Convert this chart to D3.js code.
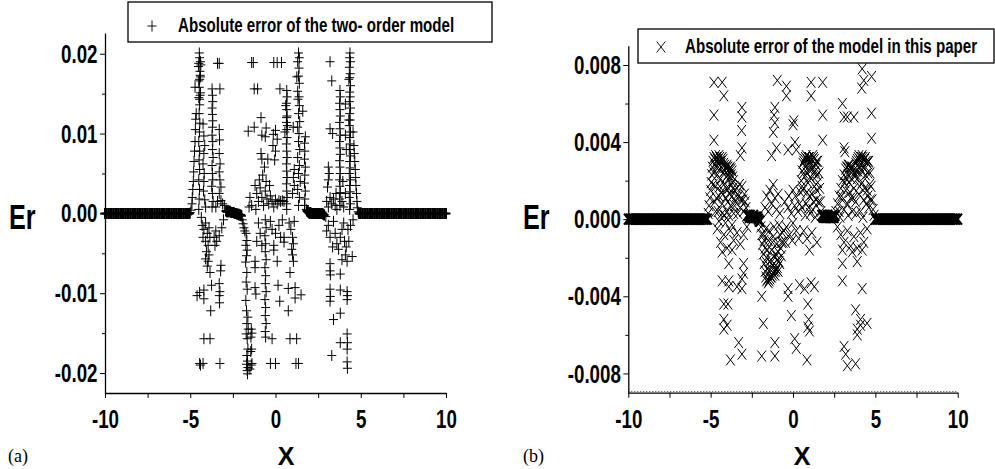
<!DOCTYPE html>
<html>
<head>
<meta charset="utf-8">
<script src="https://cdn.jsdelivr.net/npm/d3@7"></script>
<style>
  body { margin: 0; background: #fff; }
  svg { display: block; }
</style>
</head>
<body>
<svg id="chart" width="995" height="469"></svg>
<script>

// ---- data ----
const xTicks = [-10, -5, 0, 5, 10];
const xMinorTicks = [-7.5, -2.5, 2.5, 7.5];

const yTicksA = [-0.02, -0.01, 0, 0.01, 0.02];
const yMinorA = [-0.015, -0.005, 0.005, 0.015];
const yTicksB = [-0.008, -0.004, 0, 0.004, 0.008];
const yMinorB = [-0.006, -0.002, 0.002, 0.006];

const legendA = 'Absolute error of the two- order model';
const legendB = 'Absolute error of the model in this paper';

// x positions where both errors sit on zero (outer flat bands)
const flatX = [-10, -9.9, -9.8, -9.7, -9.6, -9.5, -9.4, -9.3, -9.2, -9.1, -9, -8.9, -8.8, -8.7, -8.6, -8.5,
  -8.4, -8.3, -8.2, -8.1, -8, -7.9, -7.8, -7.7, -7.6, -7.5, -7.4, -7.3, -7.2, -7.1, -7, -6.9, -6.8, -6.7,
  -6.6, -6.5, -6.4, -6.3, -6.2, -6.1, -6, -5.9, -5.8, -5.7, -5.6, -5.5, -5.4, -5.3, -5.2,
  5, 5.1, 5.2, 5.3, 5.4, 5.5, 5.6, 5.7, 5.8, 5.9, 6, 6.1, 6.2, 6.3, 6.4, 6.5, 6.6, 6.7, 6.8, 6.9, 7,
  7.1, 7.2, 7.3, 7.4, 7.5, 7.6, 7.7, 7.8, 7.9, 8, 8.1, 8.2, 8.3, 8.4, 8.5, 8.6, 8.7, 8.8, 8.9, 9,
  9.1, 9.2, 9.3, 9.4, 9.5, 9.6, 9.7, 9.8, 9.9, 10];

// (a) short near-zero stretches between the peaks, [x, Er]
const innerBandA = [
  [-5.15,0],[-5.1,0],[-5.05,0],
  [-2.9,0.0003],[-2.85,0.0002],[-2.8,0.0002],[-2.75,0.0002],[-2.7,0.0003],[-2.65,0.0002],[-2.6,0.0001],
  [-2.55,0.0001],[-2.5,0.0001],[-2.45,0.0001],[-2.4,0],[-2.35,0],[-2.3,0],[-2.25,-0.0001],[-2.2,-0.0001],
  [-2.15,-0.0001],[-2.1,-0.0002],[-2.05,-0.0002],[-2.0,-0.0003],
  [1.85,0.0003],[1.9,0.0002],[1.95,0.0001],[2.0,0],[2.05,0.0001],[2.1,0],[2.15,0],[2.2,0],[2.25,0],[2.3,0],
  [2.35,0],[2.4,0],[2.45,0],[2.5,0],[2.55,0],[2.6,0],[2.65,0],[2.7,0],[2.75,0],[2.8,-0.0001],[2.85,-0.0002],
  [4.9,0],[4.95,0]
];

// (a) two-order model, [x, Er]
const twoOrderPts = [
  [-5.0,0.0001],[-4.95,0.0004],[-4.9,0.0012],[-4.88,0.002],[-4.85,0.003],[-4.82,0.004],[-4.8,0.0052],
  [-4.78,0.0065],[-4.75,0.0078],[-4.72,0.009],[-4.7,0.0105],[-4.68,0.0118],[-4.65,0.0125],[-4.72,0.0158],
  [-4.5,0.0005],[-4.48,0.0018],[-4.46,0.003],[-4.5,0.0042],[-4.45,0.0055],[-4.48,0.0067],[-4.45,0.0078],
  [-4.5,0.009],[-4.46,0.0102],[-4.44,0.0113],[-4.48,0.0125],[-4.45,0.0136],[-4.5,0.0145],[-4.42,0.0148],
  [-4.47,0.0158],[-4.45,0.0168],[-4.4,0.0171],[-4.43,0.0178],[-4.5,0.0188],[-4.4,0.019],[-4.45,0.0195],[-4.47,0.0201],
  [-4.52,0.0184],[-4.38,0.0186],[-4.42,0.0173],[-4.5,0.0166],[-4.4,0.0151],[-4.45,0.0143],
  [-4.25,0.0112],[-4.2,0.0097],[-4.15,0.0085],[-4.2,0.0075],[-4.25,0.0062],[-4.18,0.005],[-4.2,0.004],
  [-4.22,0.0028],[-4.15,0.0017],[-4.1,0.0008],[-3.3,0.0188],[-3.4,0.0188],
  [-3.72,0.0156],[-3.7,0.0148],[-3.68,0.014],[-3.72,0.0132],[-3.7,0.0124],[-3.68,0.0116],[-3.7,0.0108],
  [-3.72,0.0098],[-3.68,0.009],[-3.7,0.008],[-3.66,0.007],[-3.72,0.006],[-3.7,0.005],[-3.68,0.0042],
  [-3.74,0.0034],[-3.7,0.0025],[-3.66,0.0015],[-3.72,0.0008],[-3.26,0.0156],
  [-3.3,0.0105],[-3.28,0.0092],[-3.3,0.0075],[-3.25,0.0062],[-3.3,0.0052],[-3.26,0.0042],[-3.2,0.0033],
  [-3.3,0.0025],[-3.2,0.0016],[-3.1,0.0012],[-3.0,0.001],[-3.4,0.0015],[-3.5,0.0008],
  [-4.35,-0.0005],[-4.3,-0.0015],[-4.2,-0.002],[-4.1,-0.0012],[-4.0,-0.0025],[-3.9,-0.0018],[-3.85,-0.003],
  [-4.25,-0.003],[-4.1,-0.0035],[-3.95,-0.004],[-3.6,-0.003],[-3.5,-0.0022],[-3.45,-0.0035],[-3.3,-0.0028],
  [-3.15,-0.0018],[-3.05,-0.0008],[-3.55,-0.004],[-4.05,-0.0048],[-3.9,-0.0052],[-4.1,-0.0057],[-3.95,-0.006],
  [-4.0,-0.0066],[-3.84,-0.0074],[-3.2,-0.0065],[-3.22,-0.0072],[-4.6,-0.0103],[-4.45,-0.0099],[-4.2,-0.0096],
  [-4.2,-0.0107],[-3.75,-0.009],[-3.3,-0.0088],[-3.26,-0.0098],[-3.3,-0.0103],[-3.28,-0.0112],[-3.8,-0.0122],
  [-4.2,-0.0157],[-3.84,-0.0157],[-4.45,-0.0188],[-4.25,-0.0188],[-3.26,-0.0188],[-4.4,-0.019],
  [-1.95,-0.0008],[-1.9,-0.0013],[-1.85,-0.0018],[-1.8,-0.0022],
  [-1.72,-0.0025],[-1.68,-0.0034],[-1.74,-0.004],[-1.66,-0.0046],[-1.7,-0.0053],[-1.75,-0.0061],[-1.68,-0.0074],
  [-1.72,-0.0086],[-1.66,-0.0095],[-1.74,-0.0109],[-1.7,-0.0122],[-1.62,-0.013],[-1.68,-0.0138],[-1.6,-0.0145],
  [-1.72,-0.0151],[-1.66,-0.0157],[-1.62,-0.017],[-1.68,-0.0178],[-1.64,-0.0185],[-1.7,-0.0189],[-1.62,-0.0193],
  [-1.66,-0.0197],[-1.64,-0.0201],
  [-1.42,-0.0145],[-1.38,-0.015],[-1.44,-0.0155],[-1.4,-0.017],[-1.45,-0.0173],[-1.38,-0.0188],[-1.42,-0.019],[-1.5,-0.0195],
  [-1.6,0.0103],[-1.55,0.0008],[-1.5,0.002],[-1.4,0.001],
  [-1.3,0.0189],[-1.4,0.0189],[-1.25,0.0156],[-1.05,0.0156],[-1.25,0.0108],
  [-1.2,0.0035],[-1.1,0.0025],[-1.0,0.0015],[-0.9,0.0032],[-0.8,0.002],[-0.7,0.001],[-0.6,0.0028],[-0.5,0.0018],
  [-0.4,0.0012],[-0.3,0.0022],[-0.2,0.0015],[-0.1,0.0008],[0.0,0.0017],[0.1,0.0012],[0.2,0.0016],[0.3,0.0015],
  [0.4,0.0016],[0.5,0.0015],[-1.15,0.0005],[-0.95,0.0042],[-0.75,0.0048],[-0.55,0.004],[-0.35,0.0035],
  [-0.65,0.0058],[-0.85,0.0075],[-0.8,0.0068],[-0.45,0.0068],[-0.15,0.0085],[0.0,0.0078],[-0.05,0.0067],
  [0.1,0.0093],[-0.85,0.012],[-0.8,0.0098],[-0.55,0.0107],[-0.6,0.0096],[-0.13,0.0099],[0.0,0.0104],
  [0.55,0.0102],[0.6,0.0135],[0.65,0.012],[0.7,0.011],
  [0.66,0.0154],[0.68,0.0146],[0.64,0.0138],[0.66,0.013],[0.68,0.0122],[0.64,0.0114],[0.66,0.0105],[0.68,0.0095],
  [0.64,0.0087],[0.66,0.0078],[0.68,0.007],[0.64,0.0062],[0.66,0.0053],[0.68,0.0045],[0.64,0.0037],[0.66,0.0028],
  [0.68,0.002],[0.64,0.0012],[0.66,0.0005],[0.26,0.0156],[-0.1,0.0189],[0.1,0.0189],[0.35,0.0189],
  [1.35,0.0201],[1.4,0.0195],[1.3,0.019],[1.38,0.0182],[1.35,0.0172],[1.25,0.0171],[1.4,0.0163],[1.3,0.0153],
  [1.38,0.0146],[1.32,0.0143],[1.4,0.0135],[1.35,0.0125],[1.42,0.0115],[1.3,0.0108],[1.38,0.01],[1.35,0.009],
  [1.42,0.008],[1.3,0.007],[1.4,0.006],[1.35,0.005],[1.45,0.004],[1.3,0.003],[1.4,0.002],[1.35,0.001],
  [1.04,0.0108],[1.1,0.0055],[1.05,0.0045],[1.1,0.0035],[1.0,0.0025],
  [1.6,0.0128],[1.75,0.0096],[1.7,0.0088],[1.72,0.0078],[1.7,0.0068],[1.75,0.0058],[1.72,0.0048],[1.7,0.0038],
  [1.75,0.0028],[1.72,0.0018],[1.7,0.001],[1.8,0.0005],
  [-0.6,-0.0008],[-0.55,-0.0018],[-0.62,-0.0028],[-0.58,-0.0038],[-0.6,-0.0048],[-0.55,-0.0058],[-0.62,-0.0068],
  [-0.58,-0.0078],[-0.6,-0.0088],[-0.55,-0.0098],[-0.62,-0.0108],[-0.58,-0.0118],[-0.6,-0.0128],[-0.55,-0.0138],
  [-0.6,-0.0148],[-0.58,-0.0155],
  [-1.2,-0.006],[-1.2,-0.0068],[-1.2,-0.0093],[-1.15,-0.0101],[-1.0,-0.0012],[-0.9,-0.0025],[-1.1,-0.0035],
  [-0.8,-0.004],[-0.3,-0.001],[-0.2,-0.002],[-0.1,-0.004],[-0.1,-0.0046],[0.1,-0.006],[0.15,-0.009],[0.25,-0.011],
  [0.3,-0.003],[0.5,-0.003],[0.5,-0.0036],[0.2,-0.0015],[0.0,-0.0025],[0.4,-0.0008],[0.85,-0.0074],[0.75,-0.0094],
  [1.15,-0.0093],[1.15,-0.0106],[1.5,-0.0102],[0.75,-0.0122],[0.85,-0.0157],[1.24,-0.0157],[-0.2,-0.0157],
  [-0.3,-0.0188],[0.0,-0.0188],[1.2,-0.0188],[1.35,-0.0188],[1.0,-0.003],[1.05,-0.0038],[0.95,-0.0045],
  [1.0,-0.0052],[1.05,-0.006],[0.9,-0.002],[1.1,-0.001],[0.8,-0.0012],
  [3.2,0.019],[3.3,0.0166],
  [3.78,0.0154],[3.8,0.0146],[3.76,0.0138],[3.78,0.013],[3.8,0.0122],[3.76,0.0114],[3.78,0.0106],[3.8,0.0098],
  [3.76,0.009],[3.78,0.0082],[3.8,0.0074],[3.76,0.0066],[3.78,0.0058],[3.8,0.005],[3.76,0.0042],[3.78,0.0034],
  [3.8,0.0026],[3.76,0.0018],[3.78,0.001],
  [4.37,0.0201],[4.35,0.0195],[4.4,0.019],[4.33,0.0183],[4.38,0.0175],[4.35,0.017],[4.3,0.0168],[4.4,0.016],
  [4.35,0.0152],[4.38,0.0146],[4.33,0.014],[4.4,0.0132],[4.35,0.0125],[4.38,0.0117],[4.33,0.011],[4.4,0.0102],
  [4.35,0.0095],[4.38,0.0087],[4.33,0.008],[4.4,0.0072],[4.35,0.0065],[4.38,0.0057],[4.33,0.005],[4.4,0.0042],
  [4.35,0.0035],[4.38,0.0027],[4.33,0.002],[4.4,0.0012],[4.35,0.0005],
  [4.55,0.0102],[4.6,0.0085],[4.62,0.0075],[4.65,0.0065],[4.68,0.0055],[4.7,0.0045],[4.72,0.0035],[4.75,0.0025],
  [4.78,0.0015],[4.8,0.0007],[4.85,0.0002],
  [3.2,0.0106],[3.35,0.01],[4.1,0.0137],[4.3,0.0117],[4.1,0.0098],[4.15,0.008],
  [3.1,0.0058],[3.15,0.005],[3.1,0.0042],[3.05,0.0033],[3.0,0.0015],[3.1,0.0008],[3.2,0.002],[3.3,0.0012],
  [3.4,0.0018],[3.5,0.001],[3.55,0.0025],[3.6,0.0005],[3.9,0.0015],[4.0,0.0008],[4.1,0.0025],[3.95,0.004],
  [2.95,-0.0004],[3.0,-0.0022],[3.2,-0.003],[3.35,-0.0042],[3.1,-0.0015],[3.5,-0.0025],[3.6,-0.0038],[3.7,-0.0045],[3.8,-0.003],
  [3.9,-0.002],[4.05,-0.0035],[4.15,-0.0042],[4.0,-0.0012],[4.25,-0.002],[3.4,-0.001],[3.2,-0.0063],[3.2,-0.0072],
  [3.22,-0.0077],[3.2,-0.0095],[3.22,-0.0104],[3.2,-0.011],[3.4,-0.0133],[3.3,-0.0178],[3.8,-0.0076],
  [3.8,-0.0096],[3.8,-0.0125],[3.8,-0.0162],[4.5,-0.0054],[4.2,-0.0098],[4.22,-0.0103],[4.2,-0.0108],
  [4.2,-0.0151],[4.22,-0.0162],[4.2,-0.017],[4.2,-0.0186],[4.22,-0.0194],[4.1,-0.0052],[4.2,-0.006],
  [3.9,-0.0058],[4.3,-0.0035],[4.4,-0.0015],[4.55,-0.0008]
];

// (b) short near-zero stretches between the humps, [x, Er]
const innerBandB = [
  [-2.75,0.0002],[-2.7,0.0002],[-2.65,0.0001],[-2.6,0.0002],[-2.55,0.0001],[-2.5,0.0001],[-2.45,0.0001],
  [-2.4,0.0002],[-2.35,0.0001],[-2.3,0.0001],[-2.25,0.0001],[-2.2,0.0001],[-2.15,0.0001],[-2.1,0],
  [-2.05,-0.0001],[-2.0,-0.0001],
  [1.75,0.0002],[1.8,0.0002],[1.85,0.0001],[1.9,0.0002],[1.95,0.0001],[2.0,0.0001],[2.05,0.0001],[2.1,0.0002],
  [2.15,0.0001],[2.2,0.0001],[2.25,0.0001],[2.3,0.0001],[2.35,0.0001],[2.4,0.0002],[2.45,0.0001],[2.5,0.0001],
  [2.55,0.0002]
];

// (b) model in this paper, [x, Er]
const thisPaperPts = [
  [-5.15,0.0003],[-5.1,0.0007],[-5.05,0.0011],[-5.0,0.0015],[-4.97,0.0019],[-4.93,0.0023],[-4.9,0.0027],[-4.86,0.003],
  [-4.8,0.0032],[-4.7,0.0033],[-4.6,0.0031],[-4.5,0.0033],[-4.4,0.003],[-4.3,0.0032],[-4.2,0.0029],[-4.1,0.0027],
  [-4.0,0.0028],[-3.9,0.0026],[-3.8,0.0027],[-3.7,0.0025],[-3.62,0.002],[-3.55,0.0015],
  [-4.75,0.0031],[-4.65,0.0032],[-4.55,0.0031],[-4.45,0.0032],[-4.35,0.0029],[-4.25,0.0031],[-4.15,0.0028],
  [-4.05,0.0027],[-3.95,0.0027],[-3.85,0.0026],[-3.75,0.0026],[-3.65,0.0022],
  [-4.8,0.0024],[-4.7,0.0017],[-4.6,0.0023],[-4.5,0.0012],[-4.4,0.0021],[-4.3,0.0008],[-4.2,0.0018],[-4.1,0.0011],
  [-4.0,0.0004],[-3.9,0.0016],[-3.8,0.0007],[-3.7,0.0012],[-3.6,0.0003],[-4.75,0.0009],[-4.55,0.0004],
  [-4.35,0.0014],[-4.15,0.0002],[-3.95,0.0009],[-3.75,0.0018],
  [-4.85,0.0018],[-4.75,0.0028],[-4.65,0.0027],[-4.55,0.0029],[-4.45,0.0026],[-4.35,0.0027],[-4.25,0.0024],
  [-4.15,0.0025],[-4.05,0.0022],[-3.95,0.0023],[-3.85,0.0021],[-3.75,0.0023],[-3.65,0.0016],[-4.65,0.0011],
  [-4.45,0.0017],[-4.25,0.0013],[-4.05,0.0016],[-3.85,0.0013],[-4.7,0.0004],[-4.5,-0.0001],[-4.3,0.0003],
  [-4.1,-0.0002],[-3.9,0.0002],[-3.7,-0.0003],[-3.55,0.0007],[-3.45,0.0012],[-3.25,0.0018],[-3.15,0.001],
  [-2.95,0.0013],[-2.85,0.0006],
  [-3.5,0.0009],[-3.4,0.0016],[-3.3,0.0012],[-3.2,0.0006],[-3.1,0.0017],[-3.0,0.0004],[-2.9,0.0009],[-2.8,0.0002],
  [-3.35,0.0003],[-3.05,0.001],
  [-4.6,-0.0005],[-4.4,-0.0012],[-4.2,-0.0008],[-4.0,-0.0015],[-3.8,-0.0006],[-3.6,-0.0011],[-3.4,-0.0007],
  [-3.2,-0.0013],[-3.0,-0.0008],[-2.8,-0.0004],[-4.3,-0.0017],[-3.7,-0.0016],
  [-1.95,-0.0004],[-1.9,-0.0008],[-1.85,-0.0013],[-1.8,-0.0018],[-1.75,-0.0023],[-1.7,-0.0027],[-1.65,-0.003],
  [-1.6,-0.0032],[-1.5,-0.0033],[-1.4,-0.0031],[-1.3,-0.003],[-1.2,-0.0028],[-1.1,-0.0029],[-1.0,-0.0026],
  [-0.9,-0.0027],[-0.8,-0.0023],[-0.7,-0.0019],[-0.6,-0.0012],[-0.55,-0.0006],
  [-1.55,-0.0031],[-1.45,-0.0032],[-1.35,-0.003],[-1.25,-0.0029],[-1.15,-0.0027],[-1.05,-0.0027],[-0.95,-0.0025],
  [-1.8,-0.0008],[-1.7,-0.0015],[-1.6,-0.002],[-1.5,-0.0011],[-1.4,-0.0022],[-1.3,-0.0016],[-1.2,-0.0009],
  [-1.1,-0.002],[-1.0,-0.0013],[-0.9,-0.0017],[-0.8,-0.0008],[-0.7,-0.0012],[-1.55,-0.0026],[-1.25,-0.0024],
  [-0.95,-0.0021],
  [-1.75,-0.0011],[-1.65,-0.0022],[-1.55,-0.0016],[-1.45,-0.0027],[-1.35,-0.0021],[-1.25,-0.0012],
  [-1.15,-0.0025],[-1.05,-0.0018],[-0.85,-0.0022],[-0.75,-0.0015],[-0.65,-0.0007],[-1.45,-0.0006],
  [-1.15,-0.0004],[-0.85,-0.0003],[-1.65,-0.0005],
  [-1.7,0.0006],[-1.6,0.0012],[-1.5,0.0004],[-1.4,0.0015],[-1.3,0.0008],[-1.2,0.0018],[-1.1,0.0011],[-1.0,0.0005],
  [-0.9,0.0013],[-0.8,0.0003],
  [-0.5,0.0009],[-0.4,-0.0004],[-0.3,0.0006],[-0.2,-0.0008],[-0.1,0.0003],[0.0,-0.0002],[0.1,0.0007],[0.2,-0.0006],
  [0.3,0.0004],[-0.45,-0.0012],[-0.25,0.0012],[-0.05,-0.0011],[0.15,0.0012],[0.35,-0.001],[0.0,0.0015],
  [0.4,0.0008],[0.45,0.0014],[0.5,0.002],[0.55,0.0025],[0.6,0.0029],[0.7,0.0031],[0.8,0.0033],[0.9,0.003],
  [1.0,0.0032],[1.1,0.0029],[1.2,0.0033],[1.3,0.0031],[1.4,0.0028],[1.5,0.003],[1.58,0.0024],[1.62,0.0016],
  [1.66,0.0009],[1.7,0.0004],
  [0.65,0.003],[0.75,0.0032],[0.85,0.0031],[0.95,0.0032],[1.05,0.003],[1.15,0.0031],[1.25,0.0032],[1.35,0.0029],[1.45,0.003],
  [0.6,0.0015],[0.7,0.0022],[0.8,0.0008],[0.9,0.0019],[1.0,0.0012],[1.1,0.0021],[1.2,0.0005],[1.3,0.0017],
  [1.4,0.001],[1.5,0.0019],[0.75,0.0002],[1.05,0.0003],[1.35,0.0001],[0.65,-0.0006],[0.85,-0.001],[1.15,-0.0007],
  [1.45,-0.0012],[1.0,-0.0016],
  [0.55,0.0017],[0.65,0.0024],[0.75,0.0027],[0.85,0.0024],[0.95,0.0026],[1.05,0.0022],[1.15,0.0026],
  [1.25,0.0024],[1.35,0.0025],[1.45,0.0023],[0.55,0.0006],[0.85,0.0014],[1.15,0.0013],[1.45,0.0015],
  [1.55,0.0009],[0.95,0.0006],[1.25,0.0009],
  [2.6,0.0004],[2.7,0.0008],[2.8,0.0012],[2.9,0.0016],[3.0,0.002],[3.1,0.0023],[3.2,0.0026],[3.3,0.0027],
  [3.4,0.0028],[3.5,0.0026],[3.6,0.0027],[3.7,0.0024],[3.8,0.0029],[3.9,0.0031],[4.0,0.0033],[4.1,0.003],
  [4.2,0.0033],[4.3,0.0031],[4.4,0.0032],[4.5,0.0029],[4.6,0.003],[4.68,0.0024],[4.74,0.0017],[4.8,0.001],
  [4.86,0.0005],[4.92,0.0002],
  [3.25,0.0027],[3.35,0.0028],[3.45,0.0027],[3.55,0.0027],[3.65,0.0025],[3.85,0.003],[3.95,0.0032],[4.05,0.0031],
  [4.15,0.0032],[4.25,0.0032],[4.35,0.0031],[4.45,0.003],[4.55,0.003],
  [2.8,0.0004],[3.0,0.001],[3.1,0.0005],[3.2,0.0015],[3.3,0.0008],[3.4,0.0019],[3.5,0.0011],[3.6,0.0004],
  [3.7,0.0016],[3.8,0.0009],[3.9,0.0021],[4.0,0.0013],[4.1,0.0004],[4.2,0.0019],[4.3,0.001],[4.4,0.0023],
  [4.5,0.0015],[4.6,0.0006],[3.25,0.0021],[3.95,0.0025],[4.45,0.0008],
  [2.95,0.0012],[3.15,0.0019],[3.35,0.0023],[3.55,0.0021],[3.75,0.0022],[3.85,0.0025],[4.05,0.0027],
  [4.15,0.0025],[4.25,0.0027],[4.35,0.0026],[4.55,0.0024],[4.65,0.0018],[4.7,0.001],[3.45,0.0014],
  [3.65,0.0011],[4.05,0.0017],[4.35,0.0016],[4.55,0.0012],[2.85,0.0001],[3.35,0.0002],[3.85,0.0003],[4.25,0.0001],
  [2.7,-0.0004],[2.9,-0.0008],[3.1,-0.0012],[3.3,-0.0006],[3.5,-0.0014],[3.7,-0.0009],[3.9,-0.0015],[4.1,-0.0007],
  [4.3,-0.0012],[4.5,-0.0005],[3.0,-0.0016],[3.6,-0.0017],[4.2,-0.0016],
  [-4.8,0.0071],[-4.3,0.0071],[-4.2,0.0064],[-4.8,0.0054],[-4.8,0.0041],[-3.1,0.0058],[-3.1,0.0053],
  [-3.12,0.0046],[-3.1,0.0037],[-3.2,0.0033],[-0.95,0.0072],[-0.4,0.0069],[-0.4,0.0064],[-1.1,0.0058],
  [-1.15,0.0054],[-1.1,0.005],[-1.2,0.0045],[-1.0,0.0037],[-1.3,0.0033],[0.05,0.0051],[0.12,0.004],
  [-0.3,0.0036],[0.2,0.0036],[0.0,0.0049],[1.1,0.0071],[1.1,0.0064],[1.8,0.0071],[1.8,0.0054],[1.8,0.0041],
  [3.0,0.006],[3.1,0.0053],[3.3,0.0053],[3.7,0.0053],[3.1,0.0037],[3.15,0.0035],[4.17,0.0068],[4.3,0.0072],
  [4.2,0.0078],[4.77,0.0074],[4.77,0.0055],[4.77,0.0042],
  [-4.3,-0.0032],[-3.9,-0.0032],[-3.9,-0.0023],[-3.0,-0.0023],[-3.0,-0.0028],[-3.9,-0.0035],[-3.4,-0.0035],
  [-3.1,-0.0031],[-3.1,-0.0036],[-4.2,-0.0044],[-3.95,-0.0044],[-4.2,-0.0052],[-4.2,-0.0057],[-4.0,-0.0055],
  [-3.3,-0.0064],[-3.1,-0.007],[-3.8,-0.0073],[-1.9,-0.004],[-1.8,-0.0054],[-1.9,-0.0071],[-1.1,-0.0064],
  [-1.1,-0.0071],[-0.3,-0.0036],[-0.3,-0.004],[-0.1,-0.005],[0.1,-0.0062],[0.2,-0.0067],[0.85,-0.0073],
  [0.4,-0.0034],[0.7,-0.0036],[1.1,-0.0033],[1.3,-0.0035],[0.9,-0.0044],[0.95,-0.0052],[0.9,-0.0056],
  [1.0,-0.0058],[3.0,-0.0023],[3.0,-0.0032],[3.1,-0.0066],[3.2,-0.007],[3.3,-0.0076],[3.8,-0.0075],
  [3.9,-0.0022],[4.2,-0.0036],[3.8,-0.0047],[4.1,-0.0052],[4.1,-0.0055],[4.5,-0.0054],[3.9,-0.0057],[3.9,-0.006]
];

// row of tiny dots just above the x axis in (b)
const dottedLevelB = -0.00894;

// ---- drawing ----
const FONT = '"Liberation Sans", Arial, Helvetica, sans-serif';
const SQUEEZE = 0.72;

const plusPath = 'M-4.5,0H4.5M0,-5.5V5.5';
const crossPath = 'M-4.3,-5.5L4.3,5.5M-4.3,5.5L4.3,-5.5';

const scatterPanel = (selection, props) => {

    const {
        xRange,
        yDomain,
        yRange,
        yTicks,
        yMinor,
        yFormat,
        points,
        innerBand,
        markerPath,
        markerWidth,
        legendText,
        legendBox,
        tagText,
        tagX,
        erX,
        xLabelX,
        dotted
    } = props;

    const xScale = d3.scaleLinear().domain([-10, 10]).range(xRange);
    const yScale = d3.scaleLinear().domain(yDomain).range(yRange);

    const g = selection.append('g').attr('class', 'panel');

    // the near-zero bands: markers packed so tightly they print as a solid bar
    const band = flatX.map(x => [x, 0]).concat(innerBand);

    g.append('g')
        .attr('class', 'band')
        .selectAll('path')
        .data(band)
        .enter().append('path')
        .attr('transform', d => `translate(${xScale(d[0])},${yScale(d[1])})`)
        .attr('d', markerPath)
        .attr('fill', 'none')
        .attr('stroke', '#000')
        .attr('stroke-width', 2);

    g.append('g')
        .attr('class', 'marks')
        .selectAll('path')
        .data(points)
        .enter().append('path')
        .attr('transform', d => `translate(${xScale(d[0])},${yScale(d[1])})`)
        .attr('d', markerPath)
        .attr('fill', 'none')
        .attr('stroke', '#000')
        .attr('stroke-width', markerWidth);

    if (dotted !== undefined) {
        g.append('line')
            .attr('x1', xScale(-10))
            .attr('x2', xScale(10))
            .attr('y1', yScale(dotted))
            .attr('y2', yScale(dotted))
            .attr('stroke', '#333')
            .attr('stroke-width', 1)
            .attr('stroke-dasharray', '1,2');
    }

    const fmt = d => d3.format(yFormat)(d).replace('\u2212', '-');

    // y axis
    const yAxisG = g.append('g')
        .attr('class', 'yAxis')
        .attr('transform', `translate(${xRange[0]},0)`);

    yAxisG.call(d3.axisLeft(yScale).tickValues(yMinor).tickSize(3).tickSizeOuter(0).tickFormat(''))
        .selectAll('.domain').remove();

    const yMajorG = g.append('g')
        .attr('transform', `translate(${xRange[0]},0)`)
        .call(d3.axisLeft(yScale).tickValues(yTicks).tickSize(5).tickSizeOuter(0).tickFormat(fmt));

    yMajorG.selectAll('text')
        .attr('x', -7.5 / SQUEEZE)
        .attr('dy', '0.33em')
        .attr('transform', `scale(${SQUEEZE},1)`)
        .style('font', `bold 26px ${FONT}`)
        .attr('fill', '#000');

    // x axis
    const xMinorG = g.append('g')
        .attr('transform', `translate(0,${yRange[0]})`)
        .call(d3.axisBottom(xScale).tickValues(xMinorTicks).tickSize(5).tickSizeOuter(0).tickFormat(''));
    xMinorG.selectAll('.domain').remove();

    const xAxisG = g.append('g')
        .attr('transform', `translate(0,${yRange[0]})`)
        .call(d3.axisBottom(xScale).tickValues(xTicks).tickSize(5).tickSizeOuter(0).tickFormat(d => String(d)));

    xAxisG.selectAll('text')
        .attr('y', 35)
        .attr('dy', null)
        .attr('transform', `scale(${SQUEEZE},1)`)
        .style('font', `bold 26px ${FONT}`)
        .attr('fill', '#000');

    g.selectAll('.domain').attr('stroke', '#000').attr('stroke-width', 1.3);
    g.selectAll('.tick line').attr('stroke', '#000').attr('stroke-width', 1);

    // axis titles
    g.append('text')
        .attr('transform', `translate(${erX},229) scale(${SQUEEZE},1)`)
        .style('font', `bold 35px ${FONT}`)
        .attr('fill', '#000')
        .text('Er');

    g.append('text')
        .attr('x', xLabelX)
        .attr('y', 465)
        .attr('text-anchor', 'middle')
        .style('font', `bold 25px ${FONT}`)
        .attr('fill', '#000')
        .text('X');

    g.append('text')
        .attr('x', tagX)
        .attr('y', 462)
        .style('font', '18px "Liberation Serif", "Times New Roman", serif')
        .attr('fill', '#000')
        .text(tagText);

    // legend
    const lg = g.append('g').attr('class', 'legend');
    lg.append('rect')
        .attr('x', legendBox.x)
        .attr('y', legendBox.y)
        .attr('width', legendBox.w)
        .attr('height', legendBox.h)
        .attr('fill', '#fff')
        .attr('stroke', '#000')
        .attr('stroke-width', 1.3);
    lg.append('path')
        .attr('transform', `translate(${legendBox.mx},${legendBox.my})`)
        .attr('d', markerPath)
        .attr('fill', 'none')
        .attr('stroke', '#111')
        .attr('stroke-width', 1);
    lg.append('text')
        .attr('transform', `translate(${legendBox.tx},${legendBox.ty}) scale(${SQUEEZE},1)`)
        .style('font', `bold 21px ${FONT}`)
        .attr('fill', '#000')
        .text(legendText);
};

const svg = d3.select('#chart');

scatterPanel(svg, {
    xRange: [105, 446],
    yDomain: [-0.0225, 0.0226],
    yRange: [393, 33],
    yTicks: yTicksA,
    yMinor: yMinorA,
    yFormat: '.2f',
    points: twoOrderPts,
    innerBand: innerBandA,
    markerPath: plusPath,
    markerWidth: 1,
    legendText: legendA,
    legendBox: { x: 128, y: 2, w: 364, h: 40, mx: 152, my: 26, tx: 178, ty: 32 },
    tagText: '(a)',
    tagX: 8,
    erX: 9,
    xLabelX: 286
});

scatterPanel(svg, {
    xRange: [628.3, 957.7],
    yDomain: [-0.009, 0.009],
    yRange: [392.7, 45.7],
    yTicks: yTicksB,
    yMinor: yMinorB,
    yFormat: '.3f',
    points: thisPaperPts,
    innerBand: innerBandB,
    markerPath: crossPath,
    markerWidth: 1,
    legendText: legendB,
    legendBox: { x: 638, y: 29, w: 356, h: 34, mx: 661, my: 47, tx: 685, ty: 53 },
    tagText: '(b)',
    tagX: 523,
    erX: 523,
    xLabelX: 802,
    dotted: dottedLevelB
});

</script>
